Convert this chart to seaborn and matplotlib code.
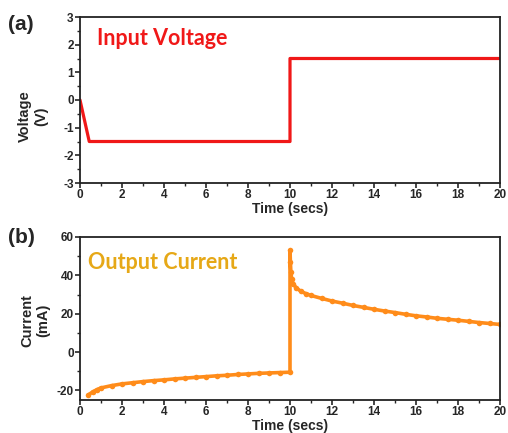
import matplotlib
matplotlib.use("Agg")
import matplotlib.pyplot as plt
import seaborn as sns
from matplotlib.ticker import MultipleLocator

# Input voltage profile
volt_time = [0, 0.44, 10, 10, 20]
volt_value = [0, -1.5, -1.5, 1.5, 1.5]

# Output current readings
curr_time = [0.4, 0.6, 0.8, 1.0, 1.5, 2, 2.5, 3, 3.5, 4, 4.5, 5, 5.5, 6, 6.5, 7,
             7.5, 8, 8.5, 9, 9.5, 10.0, 10.0, 10.02, 10.04, 10.08, 10.15, 10.3,
             10.5, 10.75, 11, 11.5, 12, 12.5, 13, 13.5, 14, 14.5, 15, 15.5, 16,
             16.5, 17, 17.5, 18, 18.5, 19, 19.5, 20]
curr_value = [-22.3, -20.8, -19.6, -18.7, -17.5, -16.6, -16.0, -15.4, -14.9, -14.5,
              -14.0, -13.6, -13.2, -12.8, -12.4, -12.1, -11.7, -11.4, -11.1, -10.9,
              -10.7, -10.5, 53, 47, 42, 38, 35.5, 33.5, 31.8, 30.5, 29.5, 28, 26.6,
              25.5, 24.3, 23.3, 22.3, 21.4, 20.6, 19.7, 18.9, 18.3, 17.6, 17.1,
              16.6, 16.0, 15.4, 14.9, 14.4]

sns.set_theme(style="ticks")
plt.rcParams["font.family"] = ["Liberation Sans", "DejaVu Sans"]
plt.rcParams["font.weight"] = "bold"
plt.rcParams["axes.unicode_minus"] = False

fig = plt.figure(figsize=(5.08, 4.33), dpi=100)
W, H = 508, 433
ax1 = fig.add_axes([80 / W, 1 - 183 / H, 420 / W, 166 / H])
ax2 = fig.add_axes([80 / W, 1 - 400 / H, 420 / W, 163 / H])

sns.lineplot(x=volt_time, y=volt_value, ax=ax1, color="#f01818", lw=2.3,
             sort=False, estimator=None)
sns.lineplot(x=curr_time, y=curr_value, ax=ax2, color="#ff8c1a", lw=2.6,
             marker="o", markersize=4, markeredgewidth=0,
             sort=False, estimator=None)

ax1.set_xlim(0, 20)
ax1.set_ylim(-3, 3)
ax1.yaxis.set_major_locator(MultipleLocator(1))
ax1.yaxis.set_minor_locator(MultipleLocator(0.5))
ax1.set_ylabel("Voltage\n(V)", fontsize=10.5, fontweight="bold", linespacing=1.2)
ax1.yaxis.set_label_coords(-0.076, 0.40)

ax2.set_xlim(0, 20)
ax2.set_ylim(-25, 60)
ax2.yaxis.set_major_locator(MultipleLocator(20))
ax2.yaxis.set_minor_locator(MultipleLocator(10))
ax2.set_ylabel("Current\n(mA)", fontsize=10.5, fontweight="bold", linespacing=1.2)
ax2.yaxis.set_label_coords(-0.071, 0.49)

for ax in (ax1, ax2):
    ax.xaxis.set_major_locator(MultipleLocator(2))
    ax.xaxis.set_minor_locator(MultipleLocator(1))
    ax.set_xlabel("Time (secs)", fontsize=10, fontweight="bold", labelpad=0.5)
    ax.tick_params(which="major", direction="out", length=3.5, width=1.2,
                   labelsize=8.5, pad=1)
    ax.tick_params(which="minor", direction="out", length=2.2, width=1.0)
    for lbl in ax.get_xticklabels() + ax.get_yticklabels():
        lbl.set_fontweight("bold")
    for sp in ax.spines.values():
        sp.set_visible(True)
        sp.set_linewidth(1.3)
        sp.set_color("#222222")

ax1.text(0.04, 0.834, "Input Voltage", transform=ax1.transAxes, color="#f01818",
         fontsize=15.5, fontweight="bold", family=["Lato", "DejaVu Sans"])
ax2.text(0.02, 0.806, "Output Current", transform=ax2.transAxes, color="#e6a817",
         fontsize=15.5, fontweight="bold", family=["Lato", "DejaVu Sans"])

fig.text(8 / W, 1 - 24 / H, "(a)", fontsize=15, fontweight="bold", va="center")
fig.text(8 / W, 1 - 237 / H, "(b)", fontsize=15, fontweight="bold", va="center")

fig.savefig("out.png", dpi=100)
